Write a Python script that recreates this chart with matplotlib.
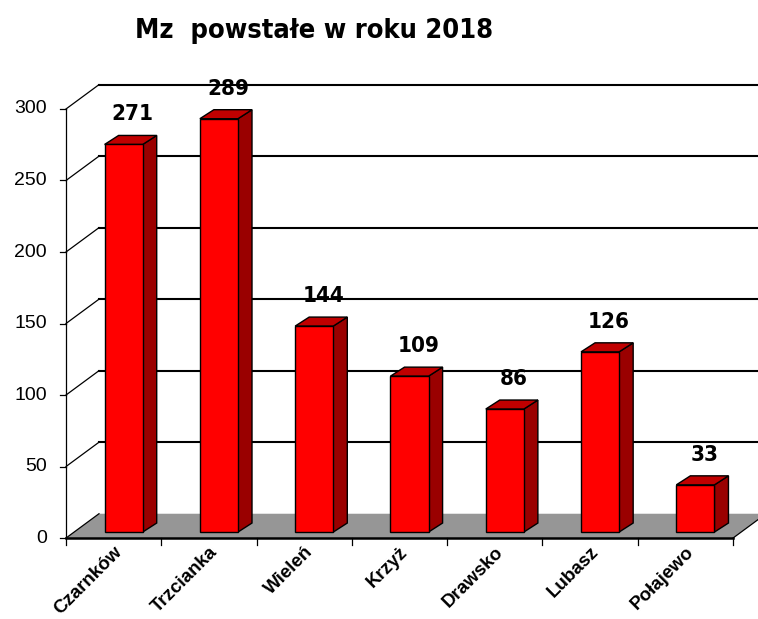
import matplotlib
matplotlib.use("Agg")
import matplotlib.pyplot as plt
from matplotlib.patches import Polygon
from matplotlib import font_manager

categories = ["Czarnków", "Trzcianka", "Wieleń", "Krzyż", "Drawsko", "Lubasz", "Połajewo"]
values = [271, 289, 144, 109, 86, 126, 33]
yticks = [0, 50, 100, 150, 200, 250, 300]
title = "Mz  powstałe w roku 2018"

fl = font_manager.fontManager.ttflist
names = {f.name for f in fl}
if "Liberation Sans Narrow" in names:
    narrow = dict(family="Liberation Sans Narrow")
    vsize, tsize = 18, 22
elif any(f.name == "DejaVu Sans" and f.stretch == "condensed" for f in fl):
    narrow = dict(family="DejaVu Sans", fontstretch="condensed")
    vsize, tsize = 16, 19.5
else:
    narrow = dict(family="Liberation Sans")
    vsize, tsize = 17, 22
regular = "Liberation Sans"

# 3D style constants (data units)
DX, DY = 0.346, 17.0          # floor/wall depth
BOX, BOY = 0.105, 4.2         # bar front plane offset
BDX, BDY = 0.147, 6.3         # bar depth
BW = 0.40                     # bar width
NC = len(categories)

fig = plt.figure(figsize=(7.58, 6.19), dpi=100)
ax = fig.add_axes([0, 0, 1, 1])
ax.set_xlim(-0.6926, 7.262)
ax.set_ylim(-56.6, 376.2)
ax.axis("off")

# floor
ax.add_patch(Polygon([(0, 0), (NC, 0), (NC + DX, DY), (DX, DY)], closed=True,
                     facecolor="#969696", edgecolor="none", zorder=1))
ax.plot([NC, NC + DX], [0, DY], color="black", lw=0.9, zorder=2)

# walls / gridlines
for v in yticks:
    ax.plot([0, DX], [v, v + DY], color="black", lw=0.9, zorder=2)
    if v > 0:
        ax.plot([DX, NC + DX + 1], [v + DY, v + DY], color="black", lw=1.5, zorder=0.5)
    ax.plot([-0.065, 0], [v, v], color="black", lw=0.9, zorder=2)
    ax.text(-0.2, v, str(v), ha="right", va="center", fontsize=14,
            family=regular, color="black")

ax.plot([0, 0], [0, max(yticks)], color="black", lw=0.9, zorder=2)
ax.plot([0, NC], [0, 0], color="black", lw=1.8, zorder=5)
for i in range(NC + 1):
    ax.plot([i, i], [0, -5], color="black", lw=0.9, zorder=5)

# bars
for i, (c, v) in enumerate(zip(categories, values)):
    x0 = i + 0.5 - BW / 2 + BOX
    x1 = x0 + BW
    y0 = BOY
    y1 = BOY + v
    side = [(x1, y0), (x1 + BDX, y0 + BDY), (x1 + BDX, y1 + BDY), (x1, y1)]
    top = [(x0, y1), (x1, y1), (x1 + BDX, y1 + BDY), (x0 + BDX, y1 + BDY)]
    front = [(x0, y0), (x1, y0), (x1, y1), (x0, y1)]
    ax.add_patch(Polygon(side, closed=True, facecolor="#9A0000", edgecolor="black", lw=1.0, zorder=3))
    ax.add_patch(Polygon(top, closed=True, facecolor="#C00000", edgecolor="black", lw=1.0, zorder=3))
    ax.add_patch(Polygon(front, closed=True, facecolor="#FF0000", edgecolor="black", lw=1.0, zorder=4))
    ax.text(i + 0.5 + 0.2, v + 21, str(v), ha="center", va="baseline",
            fontsize=vsize, fontweight="bold", color="black", zorder=6, **narrow)
    ax.text(i + 0.5 + 0.06, -8, c, ha="right", va="center", rotation=45,
            rotation_mode="anchor", fontsize=13.5, fontweight="bold",
            family=regular, color="black")

fig.text(314 / 758, 1 - 38 / 619, title, ha="center", va="baseline",
         fontsize=tsize, fontweight="bold", color="black", **narrow)

fig.savefig("out.png", dpi=100, facecolor="white")
